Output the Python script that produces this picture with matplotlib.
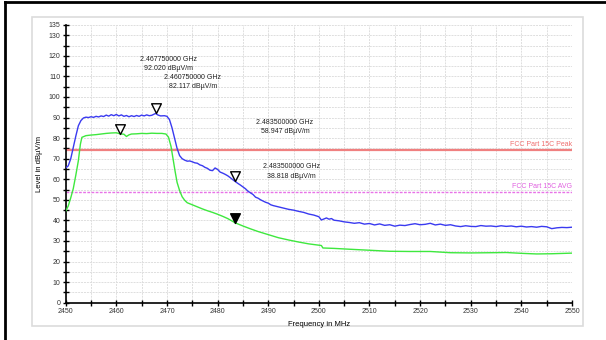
import matplotlib.pyplot as plt
from matplotlib.lines import Line2D
from matplotlib.patches import Rectangle
from matplotlib.path import Path

plt.rcParams['font.family'] = ['Liberation Sans', 'DejaVu Sans']

# Peak trace (blue)
peak_freq = [2450.0, 2450.5, 2451.0, 2451.5, 2452.0, 2452.5, 2453.0, 2453.5, 2454.0, 2454.5,
             2455.0, 2455.5, 2456.0, 2456.5, 2457.0, 2457.5, 2458.0, 2458.5, 2459.0, 2459.5,
             2460.0, 2460.5, 2461.0, 2461.5, 2462.0, 2462.5, 2463.0, 2463.5, 2464.0, 2464.5,
             2465.0, 2465.5, 2466.0, 2466.5, 2467.0, 2467.75, 2468.25, 2468.75, 2469.5, 2470.0,
             2470.5, 2471.0, 2471.5, 2472.0, 2472.5, 2473.0, 2473.5, 2474.0, 2474.5, 2475.0,
             2475.5, 2476.0, 2476.5, 2477.0, 2477.5, 2478.0, 2478.5, 2479.0, 2479.5, 2480.0,
             2480.5, 2481.0, 2481.5, 2482.0, 2482.5, 2483.0, 2483.5, 2484.0, 2484.5, 2485.0,
             2485.5, 2486.0, 2486.5, 2487.0, 2487.5, 2488.0, 2488.5, 2489.0, 2489.5, 2490.0,
             2490.5, 2491.0, 2492.0, 2493.0, 2494.0, 2495.0, 2496.0, 2497.0, 2498.0, 2499.0,
             2500.0, 2500.5, 2501.0, 2501.5, 2502.0, 2502.5, 2503.0, 2504.0, 2505.0, 2506.0,
             2507.0, 2508.0, 2509.0, 2510.0, 2511.0, 2512.0, 2513.0, 2514.0, 2515.0, 2516.0,
             2517.0, 2518.0, 2519.0, 2520.0, 2521.0, 2522.0, 2523.0, 2524.0, 2525.0, 2526.0,
             2527.0, 2528.0, 2529.0, 2530.0, 2531.0, 2532.0, 2533.0, 2534.0, 2535.0, 2536.0,
             2537.0, 2538.0, 2539.0, 2540.0, 2541.0, 2542.0, 2543.0, 2544.0, 2545.0, 2546.0,
             2547.0, 2548.0, 2549.0, 2550.0]
peak_level = [65.5, 66.5, 70.0, 75.5, 81.0, 86.0, 88.5, 89.8, 90.2, 90.0,
              90.4, 90.1, 90.6, 90.3, 90.8, 90.5, 91.2, 90.7, 91.4, 90.9,
              91.5, 90.8, 91.3, 90.6, 91.0, 90.4, 90.9, 90.5, 91.0, 90.6,
              91.2, 90.8, 91.3, 90.9, 91.1, 92.0, 91.2, 90.8, 90.9, 90.6,
              89.0, 85.0, 80.0, 75.0, 71.5, 70.0, 69.3, 68.8, 68.9, 68.5,
              68.0, 67.8, 67.0, 66.6, 65.8, 65.3, 64.4, 64.2, 65.5, 64.8,
              63.5, 63.0, 62.4, 61.7, 60.8, 59.8, 58.9, 58.0, 57.2, 56.3,
              55.4, 54.2, 53.4, 52.6, 51.3, 50.8, 50.0, 49.4, 48.8, 48.4,
              47.6, 47.2, 46.6, 46.0, 45.4, 45.0, 44.4, 43.9, 43.1, 42.6,
              41.8, 40.2, 40.7, 41.2, 40.6, 40.9, 40.1, 39.8, 39.3, 39.0,
              38.6, 38.9, 38.2, 38.5, 37.8, 38.3, 37.6, 37.9, 37.2, 37.7,
              37.5, 38.0, 38.4, 37.9, 38.1, 38.6, 37.8, 38.2, 37.6, 37.9,
              37.3, 37.0, 37.4, 37.1, 37.0, 37.5, 37.2, 37.3, 37.0, 37.4,
              37.1, 37.3, 36.9, 37.2, 36.8, 37.0, 36.7, 37.1, 36.9, 36.0,
              36.4, 36.6, 36.5, 36.7]

# Average trace (green)
avg_freq = [2450.0, 2450.5, 2451.0, 2451.5, 2452.0, 2452.5, 2452.9, 2453.2, 2454.0, 2455.0,
            2456.0, 2457.0, 2458.0, 2459.0, 2460.0, 2460.75, 2461.5, 2462.0, 2462.5, 2463.0,
            2464.0, 2465.0, 2466.0, 2467.0, 2468.0, 2469.0, 2469.8, 2470.3, 2470.8, 2471.2,
            2471.6, 2472.0, 2472.5, 2473.0, 2473.5, 2474.0, 2475.0, 2476.0, 2477.0, 2478.0,
            2479.0, 2480.0, 2481.0, 2482.0, 2483.5, 2485.0, 2486.5, 2488.0, 2490.0, 2492.0,
            2494.0, 2496.0, 2498.0, 2500.5, 2500.8, 2503.0, 2506.0, 2510.0, 2514.0, 2518.0,
            2522.0, 2526.0, 2530.0, 2534.0, 2537.0, 2540.0, 2543.0, 2546.0, 2550.0]
avg_level = [44.5, 47.0, 51.0, 55.5, 62.0, 69.0, 77.0, 80.4, 81.2, 81.5,
             81.7, 82.0, 82.3, 82.5, 82.6, 82.1, 81.9, 80.8, 81.6, 82.0,
             82.1, 82.3, 82.2, 82.4, 82.3, 82.3, 82.0, 80.5, 76.0, 70.0,
             64.0, 58.5, 54.5, 51.5, 49.8, 48.6, 47.6, 46.6, 45.6, 44.7,
             43.9, 43.0, 42.0, 40.9, 38.8, 37.3, 35.9, 34.6, 33.1, 31.6,
             30.5, 29.5, 28.6, 27.8, 26.6, 26.4, 26.0, 25.5, 25.0, 24.9,
             24.9, 24.3, 24.2, 24.3, 24.4, 24.0, 23.7, 23.8, 24.1]

# Limits
peak_limit = 74
avg_limit = 54

# Markers
marker_freq = [2467.75, 2460.75, 2483.5, 2483.5]
marker_level = [92.020, 82.117, 58.947, 38.818]
marker_filled = [False, False, False, True]
marker_text = ["2.467750000 GHz\n92.020 dB\u00b5V/m",
               "2.460750000 GHz\n82.117 dB\u00b5V/m",
               "2.483500000 GHz\n58.947 dB\u00b5V/m",
               "2.483500000 GHz\n38.818 dB\u00b5V/m"]
text_pos = [(2470.4, 116.0), (2475.1, 107.2), (2493.3, 85.4), (2494.6, 63.9)]

fig = plt.figure(figsize=(6.06, 3.40), dpi=100)
fig.patch.set_facecolor('white')

# panel and outer frame
fig.patches.append(Rectangle((0.0528, 0.0412), 0.909, 0.909, transform=fig.transFigure,
                             facecolor='white', edgecolor='#dcdcdc', linewidth=1.2, zorder=-5))
fig.add_artist(Line2D([0.0075, 0.0075], [0, 0.995], transform=fig.transFigure, color='black', lw=2))
fig.add_artist(Line2D([0.0075, 1.0], [0.993, 0.993], transform=fig.transFigure, color='black', lw=2))

ax = fig.add_axes([0.1084, 0.1097, 0.8355, 0.8168])
ax.set_zorder(5)
ax.patch.set_alpha(0)
ax.set_xlim(2450, 2550)
ax.set_ylim(0, 135)

ax.set_xticks(range(2450, 2551, 10))
ax.set_xticks(range(2455, 2550, 10), minor=True)
ax.set_yticks(list(range(0, 131, 10)) + [135])
ax.set_yticks(range(5, 130, 10), minor=True)
ax.grid(True, which='both', color='#dedede', linestyle=(0, (2, 1)), linewidth=0.7)
ax.set_axisbelow(True)
for s in ['top', 'right']:
    ax.spines[s].set_visible(False)
for s in ['left', 'bottom']:
    ax.spines[s].set_linewidth(1.2)
ax.tick_params(which='both', direction='inout', length=4, width=1, labelsize=5, pad=2,
               labelcolor='#333333')

ax.axhline(peak_limit, color='#f08080', lw=1.6, zorder=2)
ax.axhline(avg_limit, color='#e873e8', lw=1.0, linestyle=(0, (2, 1)), zorder=2)
ax.text(2550, peak_limit + 1, "FCC Part 15C Peak", color='#ef6f6f', fontsize=5, ha='right', va='bottom')
ax.text(2550, avg_limit + 1, "FCC Part 15C AVG", color='#e060e0', fontsize=5, ha='right', va='bottom')

ax.plot(peak_freq, peak_level, color='#3a3af0', lw=1.0, zorder=3)
ax.plot(avg_freq, avg_level, color='#3ee83e', lw=1.0, zorder=3)

tri = Path([(-0.5, 1.0), (0.5, 1.0), (0.0, 0.0), (-0.5, 1.0)],
           [Path.MOVETO, Path.LINETO, Path.LINETO, Path.CLOSEPOLY])
for f, v, filled in zip(marker_freq, marker_level, marker_filled):
    ax.plot([f], [v], marker=tri, markersize=14, markeredgecolor='black', markeredgewidth=1.0,
            markerfacecolor='black' if filled else 'white', linestyle='none', zorder=4)
for (tx, ty), t in zip(text_pos, marker_text):
    ax.text(tx, ty, t, fontsize=5, ha='center', va='center', color='#222222', linespacing=1.5)

ax.set_xlabel("Frequency in MHz", fontsize=5.5, labelpad=4)
ax.set_ylabel("Level in dB\u00b5V/m", fontsize=5.5, labelpad=4)

fig.savefig("out.png", dpi=100)
